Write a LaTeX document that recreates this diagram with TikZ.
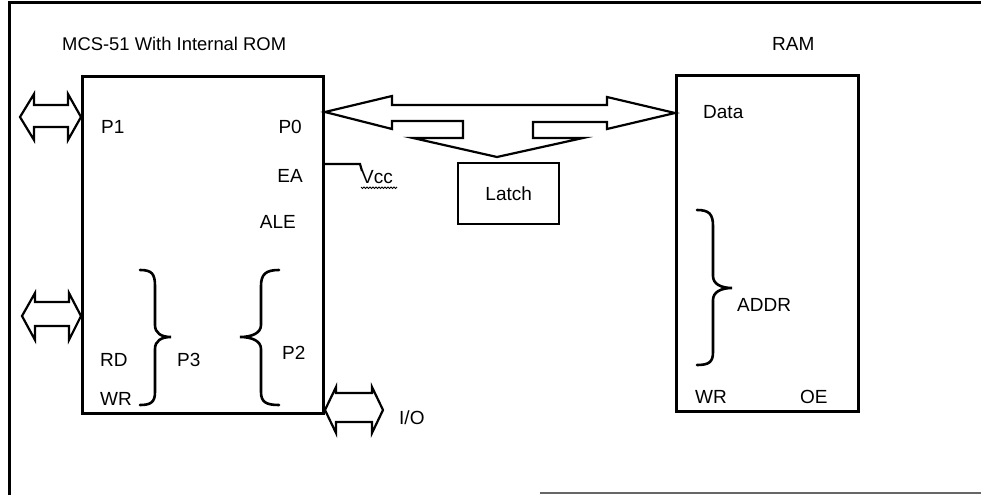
\documentclass[tikz,border=0pt]{standalone}
\usepackage{fontspec}
\setmainfont{Liberation Sans}
\begin{document}
\begin{tikzpicture}[x=1pt,y=-1pt,
  chip/.style={draw, line width=3pt, inner sep=0pt, anchor=north west},
  lbl/.style={inner sep=0pt, font=\fontsize{19}{22}\selectfont},
  bus/.style={draw, line width=2.2pt, line join=miter},
  brc/.style={draw, line width=2.6pt, line cap=round},
  frame/.style={line width=3pt}]
\useasboundingbox (0,0) rectangle (981,495);
% frame
\draw[frame] (9,495) -- (9,3) -- (981,3);
\draw[line width=2pt, black!60] (540,493) -- (981,493);
% titles
\node[lbl, anchor=west, font=\fontsize{18.4}{22}\selectfont] (title) at (62,44) {MCS-51 With Internal ROM};
\node[lbl, anchor=west] (ramt) at (772,44) {RAM};
% chips
\node[chip, minimum width=241pt, minimum height=337pt] (mcs) at (81,75) {};
\node[chip, minimum width=182pt, minimum height=336pt] (ram) at (675,74) {};
\node[draw, line width=2.4pt, minimum width=101pt, minimum height=61pt, inner sep=0pt, anchor=north west, font=\fontsize{19}{22}\selectfont] (latch) at (457,162) {Latch};
% MCS labels
\node[lbl, anchor=west] (p1) at (101,127) {P1};
\node[lbl, anchor=east] (p0) at (302,127) {P0};
\node[lbl, anchor=east] (ea) at (303,176) {EA};
\node[lbl, anchor=east] (ale) at (296,222) {ALE};
\node[lbl, anchor=west] (rd) at (100,360) {RD};
\node[lbl, anchor=west] (wr) at (100,399) {WR};
\node[lbl, anchor=west] (p3) at (177,360) {P3};
\node[lbl, anchor=west] (p2) at (282,353) {P2};
\node[lbl, anchor=west] (io) at (399,418) {I/O};
% RAM labels
\node[lbl, anchor=west] (data) at (703,112) {Data};
\node[lbl, anchor=west] (addr) at (737,305) {ADDR};
\node[lbl, anchor=west] (rwr) at (695,397) {WR};
\node[lbl, anchor=west] (oe) at (800,397) {OE};
% Vcc
\node[lbl, anchor=west] (vcc) at (361,177) {Vcc};
\coordinate (eabend) at (360,164);
\draw[line width=2.2pt] (mcs.east |- eabend) -- (eabend) -- (362,171);
\draw[line width=0.8pt] (361,187) \foreach \i in {0,...,11} { -- ++(1.5,1.5) -- ++(1.5,-1.5) };
% braces
\draw[brc] (140,270) .. controls (152,270) and (155,274) .. (155,286) -- (155,325)
  .. controls (155,333) and (161,337) .. (171,337) .. controls (161,337) and (155,341) .. (155,349)
  -- (155,392) .. controls (155,402) and (151,405) .. (140,405);
\draw[brc] (279,270) .. controls (266,270) and (261,274) .. (261,286) -- (261,325)
  .. controls (261,333) and (252,337) .. (240,337) .. controls (252,337) and (261,341) .. (261,349)
  -- (261,392) .. controls (261,402) and (266,405) .. (279,405);
\draw[brc] (697,210) .. controls (709,210) and (713,214) .. (713,226) -- (713,276)
  .. controls (713,284) and (721,288) .. (732,288) .. controls (721,288) and (713,292) .. (713,300)
  -- (713,352) .. controls (713,362) and (709,365) .. (697,365);
% bus between P0 and Data, with branch down to latch
\coordinate (busL) at (mcs.east |- 0,112);
\coordinate (busR) at (ram.west |- 0,113);
\draw[bus] (busL) -- (392,96) -- (392,105) -- (607,105) -- (607,97) -- (busR)
  -- (607,129) -- (607,122) -- (533,122) -- (533,138) -- (583,138) -- (497,157)
  -- (413,138) -- (463,138) -- (463,121) -- (392,121) -- (392,129) -- cycle;
% double arrows
\draw[bus] (20,117) -- (34,94) -- (34,105) -- (68,105) -- (68,94) -- (mcs.west |- 0,117)
  -- (68,140) -- (68,127) -- (34,127) -- (34,140) -- cycle;
\draw[bus] (22,316) -- (35,293) -- (35,302) -- (69,302) -- (69,293) -- (mcs.west |- 0,316)
  -- (69,340) -- (69,326) -- (35,326) -- (35,340) -- cycle;
\draw[bus] (mcs.south east |- 0,410) -- (336,387) -- (336,393) -- (372,393) -- (372,387) -- (383,410)
  -- (372,433) -- (372,422) -- (336,422) -- (336,433) -- cycle;
\end{tikzpicture}
\end{document}
